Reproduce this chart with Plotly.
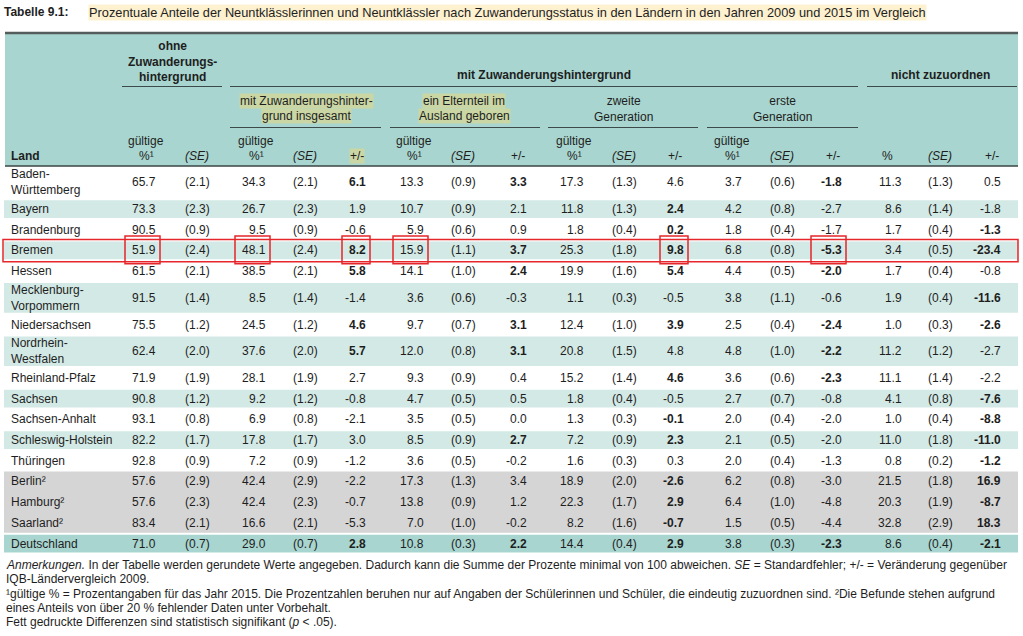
import plotly.graph_objects as go

# ---------------- data ----------------
states = ["Baden-\nWürttemberg", "Bayern", "Brandenburg", "Bremen", "Hessen",
          "Mecklenburg-\nVorpommern", "Niedersachsen", "Nordrhein-\nWestfalen",
          "Rheinland-Pfalz", "Sachsen", "Sachsen-Anhalt", "Schleswig-Holstein",
          "Thüringen", "Berlin²", "Hamburg²", "Saarland²", "Deutschland"]
row_group = ["w", "t", "w", "t", "w", "t", "w", "t", "w", "t", "w", "t", "w",
             "g", "g", "g", "d"]

ohne_pct = [65.7, 73.3, 90.5, 51.9, 61.5, 91.5, 75.5, 62.4, 71.9, 90.8, 93.1, 82.2, 92.8, 57.6, 57.6, 83.4, 71.0]
ohne_se = [2.1, 2.3, 0.9, 2.4, 2.1, 1.4, 1.2, 2.0, 1.9, 1.2, 0.8, 1.7, 0.9, 2.9, 2.3, 2.1, 0.7]
mit_pct = [34.3, 26.7, 9.5, 48.1, 38.5, 8.5, 24.5, 37.6, 28.1, 9.2, 6.9, 17.8, 7.2, 42.4, 42.4, 16.6, 29.0]
mit_se = [2.1, 2.3, 0.9, 2.4, 2.1, 1.4, 1.2, 2.0, 1.9, 1.2, 0.8, 1.7, 0.9, 2.9, 2.3, 2.1, 0.7]
mit_diff = [6.1, 1.9, -0.6, 8.2, 5.8, -1.4, 4.6, 5.7, 2.7, -0.8, -2.1, 3.0, -1.2, -2.2, -0.7, -5.3, 2.8]
mit_sig = [1, 0, 0, 1, 1, 0, 1, 1, 0, 0, 0, 0, 0, 0, 0, 0, 1]
eltern_pct = [13.3, 10.7, 5.9, 15.9, 14.1, 3.6, 9.7, 12.0, 9.3, 4.7, 3.5, 8.5, 3.6, 17.3, 13.8, 7.0, 10.8]
eltern_se = [0.9, 0.9, 0.6, 1.1, 1.0, 0.6, 0.7, 0.8, 0.9, 0.5, 0.5, 0.9, 0.5, 1.3, 0.9, 1.0, 0.3]
eltern_diff = [3.3, 2.1, 0.9, 3.7, 2.4, -0.3, 3.1, 3.1, 0.4, 0.5, 0.0, 2.7, -0.2, 3.4, 1.2, -0.2, 2.2]
eltern_sig = [1, 0, 0, 1, 1, 0, 1, 1, 0, 0, 0, 1, 0, 0, 0, 0, 1]
zweite_pct = [17.3, 11.8, 1.8, 25.3, 19.9, 1.1, 12.4, 20.8, 15.2, 1.8, 1.3, 7.2, 1.6, 18.9, 22.3, 8.2, 14.4]
zweite_se = [1.3, 1.3, 0.4, 1.8, 1.6, 0.3, 1.0, 1.5, 1.4, 0.4, 0.3, 0.9, 0.3, 2.0, 1.7, 1.6, 0.4]
zweite_diff = [4.6, 2.4, 0.2, 9.8, 5.4, -0.5, 3.9, 4.8, 4.6, -0.5, -0.1, 2.3, 0.3, -2.6, 2.9, -0.7, 2.9]
zweite_sig = [0, 1, 1, 1, 1, 0, 1, 0, 1, 0, 1, 1, 0, 1, 1, 1, 1]
erste_pct = [3.7, 4.2, 1.8, 6.8, 4.4, 3.8, 2.5, 4.8, 3.6, 2.7, 2.0, 2.1, 2.0, 6.2, 6.4, 1.5, 3.8]
erste_se = [0.6, 0.8, 0.4, 0.8, 0.5, 1.1, 0.4, 1.0, 0.6, 0.7, 0.4, 0.5, 0.4, 0.8, 1.0, 0.5, 0.3]
erste_diff = [-1.8, -2.7, -1.7, -5.3, -2.0, -0.6, -2.4, -2.2, -2.3, -0.8, -2.0, -2.0, -1.3, -3.0, -4.8, -4.4, -2.3]
erste_sig = [1, 0, 0, 1, 1, 0, 1, 1, 1, 0, 0, 0, 0, 0, 0, 0, 1]
nicht_pct = [11.3, 8.6, 1.7, 3.4, 1.7, 1.9, 1.0, 11.2, 11.1, 4.1, 1.0, 11.0, 0.8, 21.5, 20.3, 32.8, 8.6]
nicht_se = [1.3, 1.4, 0.4, 0.5, 0.4, 0.4, 0.3, 1.2, 1.4, 0.8, 0.4, 1.8, 0.2, 1.8, 1.9, 2.9, 0.4]
nicht_diff = [0.5, -1.8, -1.3, -23.4, -0.8, -11.6, -2.6, -2.7, -2.2, -7.6, -8.8, -11.0, -1.2, 16.9, -8.7, 18.3, -2.1]
nicht_sig = [0, 0, 1, 1, 0, 1, 1, 0, 0, 1, 1, 1, 1, 1, 1, 1, 1]

highlight_row = "Bremen"
highlight_cols = ["ohne_pct", "mit_pct", "mit_diff", "eltern_pct", "zweite_diff", "erste_diff"]

title_label = "Tabelle 9.1:"
title_text = ("Prozentuale Anteile der Neuntklässlerinnen und Neuntklässler nach "
              "Zuwanderungsstatus in den Ländern in den Jahren 2009 und 2015 im Vergleich")
notes = [
    "<i>Anmerkungen.</i> In der Tabelle werden gerundete Werte angegeben. Dadurch kann die Summe der Prozente "
    "minimal von 100 abweichen. <i>SE</i> = Standardfehler; +/- = Veränderung gegenüber",
    "IQB-Ländervergleich 2009.",
    "¹gültige % = Prozentangaben für das Jahr 2015. Die Prozentzahlen beruhen nur auf Angaben der "
    "Schülerinnen und Schüler, die eindeutig zuzuordnen sind. ²Die Befunde stehen aufgrund",
    "eines Anteils von über 20 % fehlender Daten unter Vorbehalt.",
    "Fett gedruckte Differenzen sind statistisch signifikant (<i>p</i> < .05).",
]

# ---------------- layout constants ----------------
W, H = 1023, 636
FONT = "Liberation Sans, Arial, sans-serif"
NOTE_FONT = "Liberation Sans Narrow, Liberation Sans, Arial, sans-serif"
TXT = "#1e1e1e"
HEAD_BG = "#a8d5cf"
TEAL_BG = "#d3e9e5"
GRAY_BG = "#d5d5d5"
HILITE = "#cad7a5"
X0, X1 = 5, 1018
TOP_Y, HEAD_Y = 33, 166
SINGLE_H, DOUBLE_H = 20.7, 32.7

# columns: key, values, kind, anchor x, sig
columns = [
    ("ohne_pct", ohne_pct, "pct", 157, None),
    ("ohne_se", ohne_se, "se", 197, None),
    ("mit_pct", mit_pct, "pct", 267, None),
    ("mit_se", mit_se, "se", 305, None),
    ("mit_diff", mit_diff, "diff", 367, mit_sig),
    ("eltern_pct", eltern_pct, "pct", 425, None),
    ("eltern_se", eltern_se, "se", 463, None),
    ("eltern_diff", eltern_diff, "diff", 528, eltern_sig),
    ("zweite_pct", zweite_pct, "pct", 585, None),
    ("zweite_se", zweite_se, "se", 624, None),
    ("zweite_diff", zweite_diff, "diff", 685, zweite_sig),
    ("erste_pct", erste_pct, "pct", 743, None),
    ("erste_se", erste_se, "se", 782, None),
    ("erste_diff", erste_diff, "diff", 843, erste_sig),
    ("nicht_pct", nicht_pct, "pct", 903, None),
    ("nicht_se", nicht_se, "se", 940, None),
    ("nicht_diff", nicht_diff, "diff", 1002, nicht_sig),
]

fig = go.Figure()
shapes = []
ann = []


def text(x, y, s, size=12, xanchor="center", yanchor="middle", bold=False, bg=None,
         family=FONT, align="center"):
    if bold:
        s = "<b>" + s + "</b>"
    d = dict(x=x, y=y, xref="x", yref="y", text=s, showarrow=False,
             xanchor=xanchor, yanchor=yanchor, align=align,
             font=dict(family=family, size=size, color=TXT), borderpad=0)
    if bg:
        d["bgcolor"] = bg
    ann.append(d)


def hline(x0, x1, y, color="#3c4a4a", width=1):
    shapes.append(dict(type="line", xref="x", yref="y", x0=x0, x1=x1, y0=y, y1=y,
                       line=dict(color=color, width=width)))


def rect(x0, x1, y0, y1, fill=None, line=None, lw=0):
    d = dict(type="rect", xref="x", yref="y", x0=x0, x1=x1, y0=y0, y1=y1, layer="below")
    d["fillcolor"] = fill if fill else "rgba(0,0,0,0)"
    d["line"] = dict(color=line if line else "rgba(0,0,0,0)", width=lw)
    if line:
        d["layer"] = "above"
    shapes.append(d)


# ---- title ----
text(3, 12, title_label, size=12, xanchor="left", bold=True)
text(88, 12, title_text, size=12.8, xanchor="left", bg="#fdf1cf")

# ---- header ----
rect(X0, X1, TOP_Y, HEAD_Y, fill=HEAD_BG)
hline(X0, X1, TOP_Y, color="#555c5c", width=2.5)
hline(X0, X1, HEAD_Y, color="#3a4444", width=1.5)

text(172, 61, "ohne<br>Zuwanderungs-<br>hintergrund", bold=True)
text(544, 75, "mit Zuwanderungshintergrund", bold=True)
text(940, 75, "nicht zuzuordnen", bold=True)
hline(122, 222, 86.5)
hline(230, 858, 86.5)
hline(867, 1017, 86.5)

text(306, 101, "mit Zuwanderungshinter-", bg=HILITE)
text(306, 116, "grund insgesamt", bg=HILITE)
text(464, 101, "ein Elternteil im", bg=HILITE)
text(464, 116, "Ausland geboren", bg=HILITE)
text(623, 108.5, "zweite<br>Generation")
text(782, 108.5, "erste<br>Generation")
hline(230, 381, 127.5)
hline(390, 540, 127.5)
hline(548, 698, 127.5)
hline(707, 858, 127.5)

text(10, 156, "Land", xanchor="left", bold=True)
for key, vals, kind, ax, sig in columns:
    if kind == "pct":
        cx = ax - 11
        if key == "nicht_pct":
            text(cx - 5, 156, "%")
        else:
            text(cx, 141, "gültige")
            text(cx, 156, "%¹")
    elif kind == "se":
        text(ax, 156, "<i>(SE)</i>")
    else:
        text(ax - 10, 156, "+/-", bg=HILITE if key == "mit_diff" else None)

# ---- body ----
y = HEAD_Y
centers = []
for name in states:
    h = DOUBLE_H if "\n" in name else SINGLE_H
    centers.append((y, y + h))
    y += h

bg_map = {"t": TEAL_BG, "g": GRAY_BG, "d": HEAD_BG}
gray_rows = [c for c, g in zip(centers, row_group) if g == "g"]
for (y0, y1), g in zip(centers, row_group):
    if g in ("t", "d"):
        rect(X0 - 1, X1, y0 + 1.5, y1 - 1.5, fill=bg_map[g])
if gray_rows:
    rect(X0 - 1, X1, gray_rows[0][0] + 0.5, gray_rows[-1][1] - 0.5, fill=GRAY_BG)

for i, name in enumerate(states):
    y0, y1 = centers[i]
    yc = (y0 + y1) / 2
    text(10, yc, name.replace("\n", "<br>"), xanchor="left", align="left")
    for key, vals, kind, ax, sig in columns:
        v = vals[i]
        if kind == "se":
            text(ax, yc, "({:.1f})".format(v))
        else:
            s = "{:.1f}".format(v)
            text(ax, yc, s, xanchor="right", bold=bool(sig and sig[i]))

# ---- red highlight boxes ----
RED = "#e5262a"
bi = states.index(highlight_row)
by0, by1 = centers[bi]
rect(3, X1, by0 - 0.5, by1 + 1, line=RED, lw=1.5)
col_lookup = {c[0]: c for c in columns}
for key in highlight_cols:
    _, vals, kind, ax, sig = col_lookup[key]
    wpx = 7 * len("{:.1f}".format(vals[bi])) + 1
    rect(ax - wpx - 3, ax + 3, by0 - 4, by1 + 3, line=RED, lw=1.5)

# ---- notes ----
note_y = [565, 579, 594, 607.5, 622]
for s, ny in zip(notes, note_y):
    text(5, ny, s, size=12, xanchor="left", align="left", family=NOTE_FONT)

fig.update_layout(
    width=W, height=H, margin=dict(l=0, r=0, t=0, b=0),
    paper_bgcolor="white", plot_bgcolor="white",
    xaxis=dict(range=[0, W], visible=False, fixedrange=True),
    yaxis=dict(range=[H, 0], visible=False, fixedrange=True),
    shapes=shapes, annotations=ann, showlegend=False,
)
fig.write_html("out.html", config={"displayModeBar": False},
               post_script="document.body.style.margin='0';")
